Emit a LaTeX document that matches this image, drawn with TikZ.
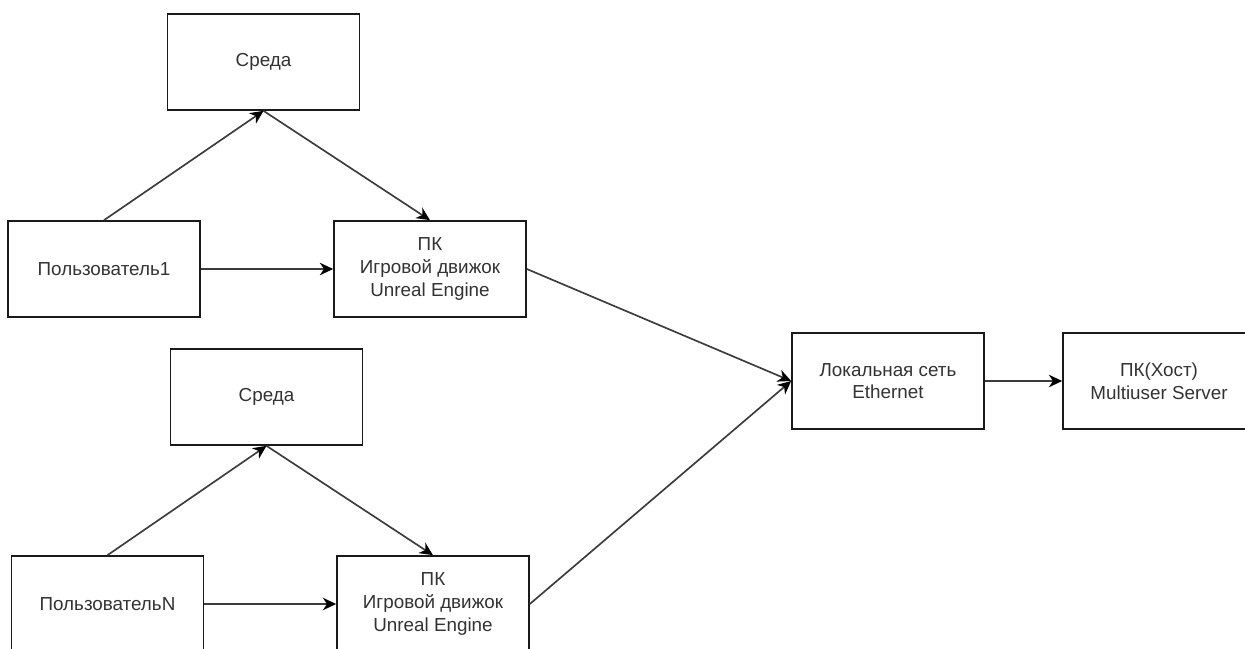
\documentclass[tikz,border=0pt]{standalone}
\usepackage{fontspec}
\setmainfont{Liberation Sans}
\usetikzlibrary{positioning,arrows.meta}
\definecolor{ink}{HTML}{1A1A1A}
\definecolor{txt}{HTML}{333333}

\begin{document}
\begin{tikzpicture}[x=0.6pt,y=-0.6pt,
  blk/.style={rectangle,draw=ink,line width=1pt,fill=white,minimum width=115.2pt,minimum height=57.6pt,
    inner sep=0pt,align=center,text=txt,font=\fontsize{11.3}{13.6}\selectfont},
  link/.style={draw=ink!85,line width=1pt,-{Stealth[length=8pt,width=7.5pt,inset=2.5pt,color=black]}}
]
\useasboundingbox (0,0) rectangle (1245,649);
\clip (0,0) rectangle (1245,649);
\fill[white] (0,0) rectangle (1245,649);
% ---- first user
\node[blk] (sreda1) at (263.5,62) {Среда};
\node[blk] (user1) at (104,269) {Пользователь1};
\node[blk] (pc1) at (430,269) {ПК\\Игровой движок\\Unreal Engine};
% ---- user N
\node[blk] (sreda2) at (266.5,397) {Среда};
\node[blk] (userN) at (107.5,604) {ПользовательN};
\node[blk] (pc2) at (433,604) {ПК\\Игровой движок\\Unreal Engine};
% ---- network and host
\node[blk] (lan) at (888,381) {Локальная сеть\\Ethernet};
\node[blk] (host) at (1159,381) {ПК(Хост)\\Multiuser Server};
% connectors
\foreach \u/\s/\p in {user1/sreda1/pc1, userN/sreda2/pc2}{
  \draw[link] (\u.north) -- (\s.south);
  \draw[link] (\s.south) -- (\p.north);
  \draw[link] (\u.east) -- (\p.west);
  \draw[link] (\p.east) -- (lan.west);
}
\draw[link] (lan.east) -- (host.west);
\end{tikzpicture}
\end{document}
